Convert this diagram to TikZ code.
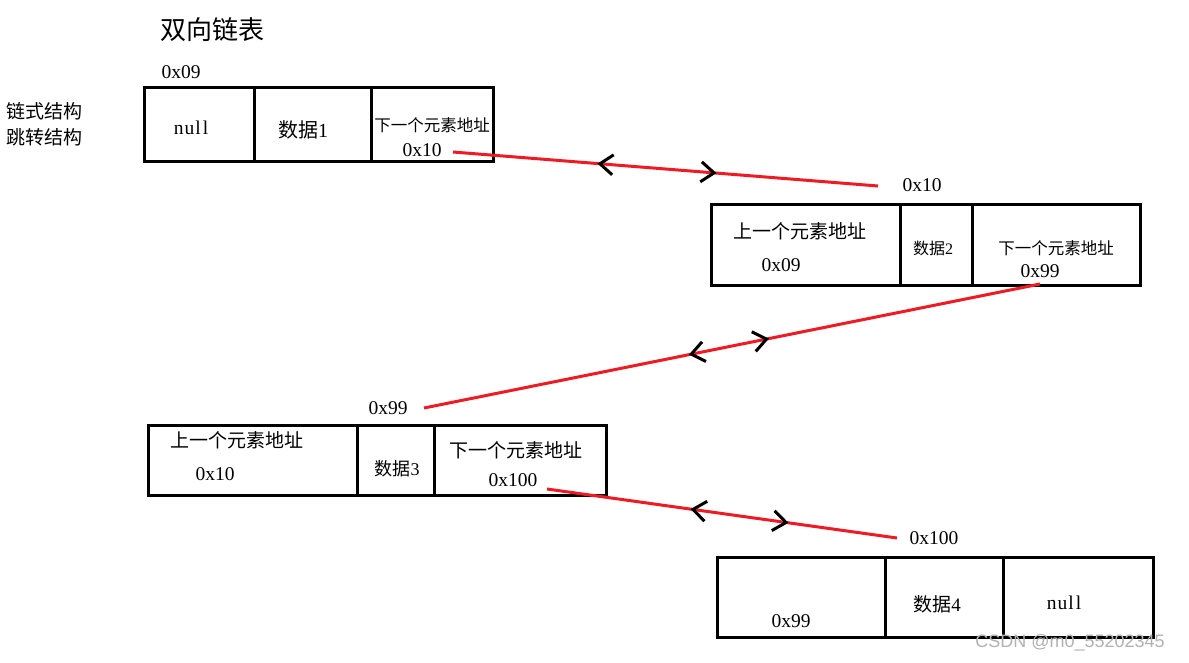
\documentclass[tikz,border=0pt]{standalone}
\usepackage{fontspec}
\setmainfont{Liberation Serif}
\newfontfamily\cjk{Noto Sans CJK SC}
\newfontfamily\wmfont{Liberation Sans}
\usetikzlibrary{positioning,arrows.meta,decorations.markings}
\definecolor{paintred}{RGB}{237,28,36}

\tikzset{
  cell/.style={draw, line width=3pt, outer sep=0pt, inner sep=0pt},
  txt/.style={inner sep=0pt, font=\fontsize{#1}{#1}\selectfont},
  txt/.default=19.5,
  link/.style={draw=paintred, line width=3pt, postaction={decorate}},
  chev/.style={black, line width=3pt},
}
\newcommand{\chevtip}{Straight Barb[length=13pt,width=20pt]}

\begin{document}
\begin{tikzpicture}[x=1pt, y=-1pt]
  \useasboundingbox[fill=white] (0,0) rectangle (1189,662);

  % header
  \node[txt=26] (title) at (212,30) {\cjk 双向链表};
  \node[txt=19, anchor=west] (note1) at (6,111) {\cjk 链式结构};
  \node[txt=19, anchor=west] (note2) at (6,137) {\cjk 跳转结构};

  % node 1
  \node[txt] (addr09) at (181,72) {0x09};
  \node[cell, minimum width=110pt, minimum height=74pt, anchor=north west] (c1a) at (144,87) {};
  \node[cell, minimum width=117pt, minimum height=74pt, right=0pt of c1a] (c1b) {};
  \node[cell, minimum width=122pt, minimum height=74pt, right=0pt of c1b] (c1c) {};
  \node[txt] (null1) at (191,128) {n\kern1pt u\kern1pt l\kern2pt l};
  \node[txt=20] (data1) at (303,130) {{\cjk 数据}1};
  \node[txt=16.5] (next1) at (432,125) {\cjk 下一个元素地址};
  \node[txt] (next1addr) at (422,150) {0x10};

  % node 2
  \node[txt] (addr10) at (922,185) {0x10};
  \node[cell, minimum width=189pt, minimum height=81pt, anchor=north west] (c2a) at (711,204) {};
  \node[cell, minimum width=72pt, minimum height=81pt, right=0pt of c2a] (c2b) {};
  \node[cell, minimum width=168pt, minimum height=81pt, right=0pt of c2b] (c2c) {};
  \node[txt=19] (prev2) at (800,231) {\cjk 上一个元素地址};
  \node[txt] (prev2addr) at (781,265) {0x09};
  \node[txt=16] (data2) at (933,248) {{\cjk 数据}2};
  \node[txt=16.5] (next2) at (1056,248) {\cjk 下一个元素地址};
  \node[txt] (next2addr) at (1040,271) {0x99};

  % node 3
  \node[txt] (addr99) at (388,408) {0x99};
  \node[cell, minimum width=209pt, minimum height=70pt, anchor=north west] (c3a) at (148,425) {};
  \node[cell, minimum width=77pt, minimum height=70pt, right=0pt of c3a] (c3b) {};
  \node[cell, minimum width=172pt, minimum height=70pt, right=0pt of c3b] (c3c) {};
  \node[txt=19] (prev3) at (237,440) {\cjk 上一个元素地址};
  \node[txt] (prev3addr) at (215,474) {0x10};
  \node[txt=18] (data3) at (397,469) {{\cjk 数据}3};
  \node[txt=19] (next3) at (516,450) {\cjk 下一个元素地址};
  \node[txt] (next3addr) at (513,480) {0x100};

  % node 4
  \node[txt] (addr100) at (934,538) {0x100};
  \node[cell, minimum width=168pt, minimum height=80pt, anchor=north west] (c4a) at (717,557) {};
  \node[cell, minimum width=118pt, minimum height=80pt, right=0pt of c4a] (c4b) {};
  \node[cell, minimum width=150pt, minimum height=80pt, right=0pt of c4b] (c4c) {};
  \node[txt] (prev4addr) at (791,621) {0x99};
  \node[txt=19] (data4) at (937,604) {{\cjk 数据}4};
  \node[txt] (null4) at (1064,603) {n\kern1pt u\kern1pt l\kern2pt l};

  % links
  \coordinate (l1a) at (453,152);
  \coordinate (l1b) at (878,186);
  \coordinate (l2a) at (424,408);
  \coordinate (l2b) at (1040,284);
  \coordinate (l3a) at (547,489);
  \coordinate (l3b) at (897,538);

  \draw[link, decoration={markings,
      mark=at position 0.34 with {\arrowreversed[chev]{\chevtip}},
      mark=at position 0.62 with {\arrow[chev]{\chevtip}}}] (l1a) -- (l1b);
  \draw[link, decoration={markings,
      mark=at position 0.43 with {\arrowreversed[chev]{\chevtip}},
      mark=at position 0.56 with {\arrow[chev]{\chevtip}}}] (l2a) -- (l2b);
  \draw[link, decoration={markings,
      mark=at position 0.41 with {\arrowreversed[chev]{\chevtip}},
      mark=at position 0.69 with {\arrow[chev]{\chevtip}}}] (l3a) -- (l3b);

  % watermark
  \node[inner sep=0pt, text=black!30, font=\wmfont\fontsize{18}{18}\selectfont] (mark) at (1070,643) {CSDN @m0\_55202345};
\end{tikzpicture}
\end{document}
